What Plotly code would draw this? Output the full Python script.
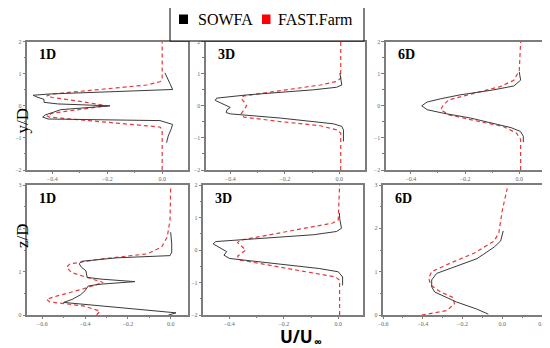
import plotly.graph_objects as go

# ---------------- data ----------------
# Panel 1: 1D, y/D
p1_sowfa_x = [0.016, 0.022, 0.032, 0.038, -0.008, -0.227, -0.415, -0.435, -0.425, -0.396, -0.37, -0.19,
              -0.38, -0.43, -0.43, -0.46, -0.47, -0.41, 0.038, 0.028, 0.016, 0.01]
p1_sowfa_y = [-1.15, -0.94, -0.74, -0.58, -0.46, -0.43, -0.41, -0.35, -0.28, -0.2, -0.12, 0.0,
              0.06, 0.11, 0.2, 0.29, 0.33, 0.37, 0.51, 0.7, 0.9, 1.03]
p1_fast_x = [0.0, 0.0, -0.008, -0.057, -0.41, -0.42, -0.4, -0.29, -0.2, -0.29, -0.4, -0.42, -0.4,
             -0.057, -0.008, 0.0, 0.0]
p1_fast_y = [-2.0, -0.74, -0.66, -0.62, -0.35, -0.31, -0.23, -0.1, 0.0, 0.13, 0.26, 0.31, 0.37,
             0.65, 0.75, 0.82, 2.0]

# Panel 2: 3D, y/D
p2_sowfa_x = [0.015, 0.015, 0.009, -0.022, -0.217, -0.4, -0.415, -0.412, -0.4, -0.418, -0.437, -0.455,
              -0.45, -0.34, -0.095, -0.01, 0.009, 0.005, 0.002]
p2_sowfa_y = [-1.11, -0.75, -0.64, -0.56, -0.38, -0.25, -0.21, -0.12, -0.05, 0.03, 0.1, 0.17,
              0.24, 0.34, 0.5, 0.58, 0.65, 0.81, 1.02]
p2_fast_x = [0.005, 0.005, -0.01, -0.07, -0.217, -0.35, -0.36, -0.35, -0.34, -0.35, -0.36, -0.35,
             -0.217, -0.07, -0.01, 0.005, 0.005]
p2_fast_y = [-2.0, -0.85, -0.75, -0.62, -0.49, -0.35, -0.25, -0.12, 0.0, 0.13, 0.24, 0.31,
             0.47, 0.65, 0.76, 0.86, 2.0]

# Panel 3: 6D, y/D
p3_sowfa_x = [0.015, 0.015, 0.005, -0.03, -0.08, -0.18, -0.28, -0.34, -0.36, -0.34, -0.29, -0.22,
              -0.1, -0.02, 0.005, 0.0]
p3_sowfa_y = [-1.13, -0.95, -0.8, -0.68, -0.58, -0.38, -0.23, -0.12, 0.0, 0.12, 0.22, 0.34,
              0.49, 0.62, 0.8, 1.06]
p3_fast_x = [0.005, 0.005, -0.01, -0.06, -0.18, -0.26, -0.29, -0.28, -0.26, -0.19, -0.07, -0.02, 0.0, 0.005]
p3_fast_y = [-2.0, -1.05, -0.85, -0.64, -0.43, -0.28, -0.12, 0.03, 0.19, 0.34, 0.6, 0.8, 1.1, 2.0]

# Panel 4: 1D, z/D
p4_sowfa_x = [-0.01, 0.025, -0.5, -0.46, -0.42, -0.4, -0.385, -0.33, -0.167, -0.33, -0.39, -0.396,
              -0.416, -0.427, -0.416, -0.25, -0.003, 0.005, 0.005, 0.0]
p4_sowfa_y = [0.0, 0.05, 0.29, 0.36, 0.47, 0.56, 0.67, 0.71, 0.77, 0.83, 0.87, 1.02,
              1.1, 1.18, 1.24, 1.32, 1.37, 1.45, 1.64, 1.91]
p4_fast_x = [-0.346, -0.33, -0.408, -0.564, -0.58, -0.53, -0.41, -0.315, -0.463, -0.486, -0.47,
             -0.33, -0.11, -0.042, -0.016, -0.003, 0.0]
p4_fast_y = [0.0, 0.09, 0.21, 0.3, 0.36, 0.44, 0.6, 0.75, 0.98, 1.1, 1.18,
             1.29, 1.41, 1.57, 1.8, 2.19, 2.92]

# Panel 5: 3D, z/D
p5_sowfa_x = [0.016, 0.016, 0.0, -0.07, -0.4, -0.42, -0.41, -0.43, -0.46, -0.45, -0.09, -0.006, 0.012, 0.006, 0.004]
p5_sowfa_y = [-1.09, -0.83, -0.67, -0.57, -0.26, -0.16, -0.05, 0.05, 0.19, 0.26, 0.47, 0.57, 0.67, 0.93, 1.14]
p5_fast_x = [0.005, 0.005, -0.01, -0.36, -0.37, -0.34, -0.37, -0.36, -0.02, 0.0, 0.005]
p5_fast_y = [-2.0, -0.93, -0.83, -0.31, -0.19, 0.0, 0.23, 0.3, 0.83, 0.93, 2.0]

# Panel 6: 6D, z/D
p6_sowfa_x = [-0.07, -0.13, -0.23, -0.34, -0.355, -0.355, -0.33, -0.23, -0.127, -0.04, -0.008, 0.005]
p6_sowfa_y = [0.02, 0.14, 0.3, 0.53, 0.65, 0.81, 0.96, 1.12, 1.3, 1.57, 1.71, 1.94]
p6_fast_x = [-0.405, -0.38, -0.28, -0.24, -0.25, -0.31, -0.36, -0.37, -0.355, -0.26, -0.14, -0.04,
             -0.017, 0.0, 0.025]
p6_fast_y = [0.0, 0.02, 0.1, 0.26, 0.41, 0.53, 0.69, 0.85, 1.0, 1.2, 1.43, 1.71,
             1.9, 2.41, 2.92]

panel_labels = ["1D", "3D", "6D", "1D", "3D", "6D"]
series_names = ["SOWFA", "FAST.Farm"]
x_ranges = [[-0.492, 0.094], [-0.49, 0.094], [-0.493, 0.095], [-0.671, 0.081], [-0.497, 0.091], [-0.6, 0.2]]
y_ranges = [[-2, 2], [-2, 2], [-2, 2], [0, 3], [-2, 2], [0, 3]]
x_tickvals = [[-0.4, -0.2, 0.0], [-0.4, -0.2, 0.0], [-0.4, -0.2, 0.0],
              [-0.6, -0.4, -0.2, 0.0], [-0.4, -0.2, 0.0], [-0.6, -0.4, -0.2, 0.0, 0.2]]

sowfa = [(p1_sowfa_x, p1_sowfa_y), (p2_sowfa_x, p2_sowfa_y), (p3_sowfa_x, p3_sowfa_y),
         (p4_sowfa_x, p4_sowfa_y), (p5_sowfa_x, p5_sowfa_y), (p6_sowfa_x, p6_sowfa_y)]
fast = [(p1_fast_x, p1_fast_y), (p2_fast_x, p2_fast_y), (p3_fast_x, p3_fast_y),
        (p4_fast_x, p4_fast_y), (p5_fast_x, p5_fast_y), (p6_fast_x, p6_fast_y)]

# ---------------- layout ----------------
W, H = 550, 348
OFF = 8  # page body margin offsets the figure in the window


def px(v):
    return (v - OFF) / W


def py(v):
    return 1 - (v - OFF) / H


x_dom = [[27, 188], [205.7, 365], [385.7, 545], [27, 188], [203, 363], [383, 542]]
y_dom = [[41.7, 170], [41.7, 170], [41.7, 170], [185, 315], [185, 315], [185, 315]]

SERIF = "Liberation Serif, Times New Roman, serif"
BLACK = "#3a3a3a"
RED = "#e8393a"
FRAME = "#7d7d7d"
TICKFONT = dict(family=SERIF, size=6, color="#666666")

fig = go.Figure()
layout = dict(width=W, height=H, margin=dict(l=0, r=0, t=0, b=0, autoexpand=False),
              paper_bgcolor="white", plot_bgcolor="white", annotations=[], shapes=[],
              showlegend=False)

for i in range(6):
    n = "" if i == 0 else str(i + 1)
    xa, ya = "x" + n, "y" + n
    fig.add_trace(go.Scatter(x=fast[i][0], y=fast[i][1], mode="lines", xaxis=xa, yaxis=ya,
                             name=series_names[1],
                             line=dict(color=RED, width=1.2, dash="4px,3px"), hoverinfo="skip"))
    fig.add_trace(go.Scatter(x=sowfa[i][0], y=sowfa[i][1], mode="lines", xaxis=xa, yaxis=ya,
                             name=series_names[0],
                             line=dict(color=BLACK, width=1), hoverinfo="skip"))
    dx = [px(x_dom[i][0]), px(x_dom[i][1])]
    dy = [py(y_dom[i][1]), py(y_dom[i][0])]
    layout["xaxis" + n] = dict(domain=dx, range=x_ranges[i], anchor=ya, showgrid=False, zeroline=False,
                               showline=True, mirror=True, linecolor=FRAME, linewidth=1.5,
                               tickvals=x_tickvals[i], tickformat=".1f", ticks="outside", ticklen=2.5,
                               tickcolor=FRAME, tickfont=TICKFONT, fixedrange=True, automargin=False,
                               minor=dict(ticks="outside", ticklen=1.5, dtick=0.1, tickcolor=FRAME))
    layout["yaxis" + n] = dict(domain=dy, range=y_ranges[i], anchor=xa, showgrid=False, zeroline=False,
                               showline=True, mirror=True, linecolor=FRAME, linewidth=1.5,
                               dtick=1, ticks="outside", ticklen=2.5, tickcolor=FRAME, tickfont=TICKFONT,
                               fixedrange=True, automargin=False,
                               minor=dict(ticks="outside", ticklen=1.5, dtick=0.5, tickcolor=FRAME))
    layout["annotations"].append(dict(text="<b>" + panel_labels[i] + "</b>", xref=xa + " domain",
                                      yref=ya + " domain", x=0.065, y=0.9, xanchor="left",
                                      yanchor="middle", showarrow=False,
                                      font=dict(family=SERIF, size=14, color="black")))

# legend box (drawn manually)
layout["shapes"] += [
    dict(type="rect", xref="paper", yref="paper", x0=px(170), x1=px(364), y0=py(41), y1=py(5),
         line=dict(color="black", width=1), fillcolor="white"),
    dict(type="rect", xref="paper", yref="paper", x0=px(179), x1=px(188), y0=py(24), y1=py(14.5),
         line=dict(width=0), fillcolor="black"),
    dict(type="rect", xref="paper", yref="paper", x0=px(262), x1=px(270.5), y0=py(24), y1=py(14.5),
         line=dict(width=0), fillcolor="#ff0000"),
]
layout["annotations"] += [
    dict(text=series_names[0], xref="paper", yref="paper", x=px(196), y=py(20), xanchor="left",
         yanchor="middle", showarrow=False, font=dict(family=SERIF, size=16, color="black")),
    dict(text=series_names[1], xref="paper", yref="paper", x=px(276), y=py(20), xanchor="left",
         yanchor="middle", showarrow=False, font=dict(family=SERIF, size=16, color="black")),
    dict(text="y/D", xref="paper", yref="paper", x=px(11), y=py(106), textangle=-90,
         showarrow=False, font=dict(family=SERIF, size=17, color="black")),
    dict(text="z/D", xref="paper", yref="paper", x=px(11), y=py(250), textangle=-90,
         showarrow=False, font=dict(family=SERIF, size=17, color="black")),
    dict(text="<b>U/U</b>", xref="paper", yref="paper", x=px(296), y=py(336),
         xanchor="center", yanchor="middle", showarrow=False, borderpad=0, height=16,
         font=dict(family="Open Sans", size=17, color="black")),
    dict(text="<b>∞</b>", xref="paper", yref="paper", x=px(313), y=py(341),
         xanchor="left", yanchor="middle", showarrow=False, borderpad=0, height=9,
         font=dict(family="Open Sans", size=11, color="black")),
]

fig.update_layout(**layout)
fig.write_html("out.html")
